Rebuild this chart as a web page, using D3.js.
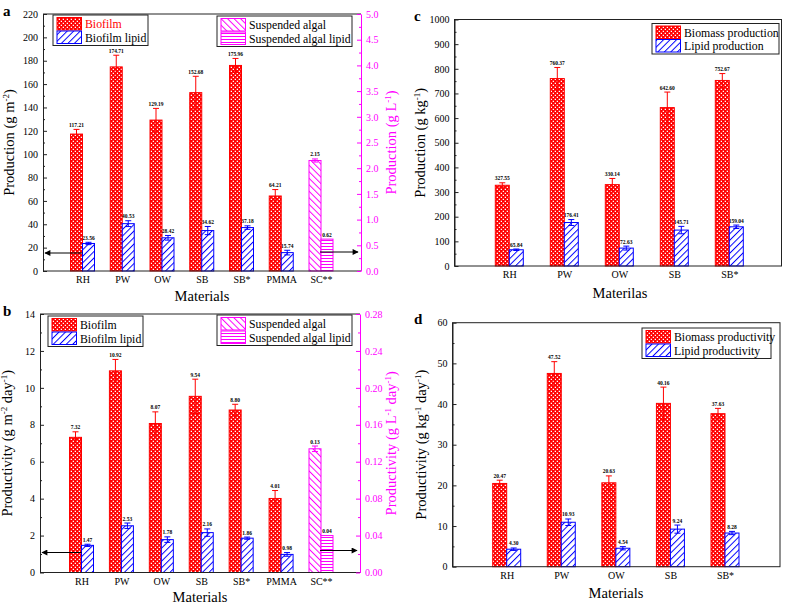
<!DOCTYPE html>
<html><head><meta charset="utf-8">
<script src="https://cdn.jsdelivr.net/npm/d3@7"></script>
<style>body{margin:0;background:#fff;} svg{display:block;font-family:"Liberation Serif","Times New Roman",serif;}</style>
</head><body><svg id="chart" width="785" height="605"></svg>
<script>
// ---------- DATA ----------
const materialsAB = ["RH","PW","OW","SB","SB*","PMMA","SC**"];
const materialsCD = ["RH","PW","OW","SB","SB*"];

// Panel a (production)
const aBiofilm      = [117.21,174.71,129.19,152.68,175.96,64.21];
const aBiofilmErr   = [4,10,10,14,6,5.5];
const aLipid        = [23.56,40.53,28.42,34.62,37.18,15.74];
const aLipidErr     = [1,2.5,2,3.5,1.5,2];
const aSusp         = [2.15];
const aSuspErr      = [0.03];
const aSuspLipid    = [0.62];
const aSuspLipidErr = [0];
const aLeftTicks    = [0,20,40,60,80,100,120,140,160,180,200,220];
const aRightTicks   = [0.0,0.5,1.0,1.5,2.0,2.5,3.0,3.5,4.0,4.5,5.0];

// Panel b (productivity)
const bBiofilm      = [7.32,10.92,8.07,9.54,8.80,4.01];
const bBiofilmErr   = [0.3,0.62,0.63,0.93,0.31,0.43];
const bLipid        = [1.47,2.53,1.78,2.16,1.86,0.98];
const bLipidErr     = [0.06,0.15,0.15,0.2,0.06,0.1];
const bSusp         = [0.134];
const bSuspErr      = [0.003];
const bSuspLipid    = [0.04];
const bSuspLipidErr = [0];
const bLeftTicks    = [0,2,4,6,8,10,12,14];
const bRightTicks   = [0.00,0.04,0.08,0.12,0.16,0.20,0.24,0.28];

// Panel c (production per kg)
const cBiomass      = [327.55,760.37,330.14,642.60,752.67];
const cBiomassErr   = [10,45,25,63,28];
const cLipid        = [65.84,176.41,72.63,145.71,159.04];
const cLipidErr     = [3,12,8,15,7];
const cTicks        = [0,100,200,300,400,500,600,700,800,900,1000];

// Panel d (productivity per kg)
const dBiomass      = [20.47,47.52,20.63,40.16,37.63];
const dBiomassErr   = [0.8,2.9,1.7,4,1.3];
const dLipid        = [4.30,10.93,4.54,9.24,8.28];
const dLipidErr     = [0.3,0.8,0.4,1.0,0.4];
const dTicks        = [0,10,20,30,40,50,60];

// ---------- DRAW ----------
const RED="#ff0000", BLUE="#0000ff", MAG="#ff00ff", AX="#222";
const svg = d3.select("#chart");
const defs = svg.append("defs");

const pr = defs.append("pattern").attr("id","pRed").attr("patternUnits","userSpaceOnUse").attr("width",4).attr("height",4);
pr.append("rect").attr("width",4).attr("height",4).attr("fill",RED);
pr.append("rect").attr("x",0.7).attr("y",0.7).attr("width",1.3).attr("height",1.3).attr("fill","#fff");
pr.append("rect").attr("x",2.7).attr("y",2.7).attr("width",1.3).attr("height",1.3).attr("fill","#fff");

function linePattern(id,color,rot,size){
  const p = defs.append("pattern").attr("id",id).attr("patternUnits","userSpaceOnUse")
    .attr("width",size).attr("height",size).attr("patternTransform",`rotate(${rot})`);
  p.append("rect").attr("width",size).attr("height",size).attr("fill","#fff");
  p.append("line").attr("x1",0.5).attr("y1",0).attr("x2",0.5).attr("y2",size).attr("stroke",color).attr("stroke-width",1);
}
linePattern("pBlue",BLUE,45,4.6);
linePattern("pMag",MAG,-45,4.6);
const ph = defs.append("pattern").attr("id","pHor").attr("patternUnits","userSpaceOnUse").attr("width",4).attr("height",3);
ph.append("rect").attr("width",4).attr("height",3).attr("fill","#fff");
ph.append("line").attr("x1",0).attr("x2",4).attr("y1",0.5).attr("y2",0.5).attr("stroke",MAG).attr("stroke-width",1);

const mk = defs.append("marker").attr("id","arr").attr("viewBox","0 0 10 10").attr("refX",9).attr("refY",5)
  .attr("markerWidth",8).attr("markerHeight",6).attr("markerUnits","userSpaceOnUse").attr("orient","auto");
mk.append("path").attr("d","M0,0 L10,5 L0,10 Z").attr("fill","#000");

function addTitle(g, x, y, parts, color, rotate, size){
  const t = g.append("text").attr("transform",`translate(${x},${y})${rotate?" rotate(-90)":""}`)
    .attr("text-anchor","middle").attr("font-size",size).attr("fill",color);
  parts.forEach(p=>{
    if(typeof p==="string") t.append("tspan").text(p);
    else t.append("tspan").attr("baseline-shift","super").attr("font-size",size*0.62).text(p.sup);
  });
}

function drawBars(g, x, y, cats, vals, errs, side, bw, fill, stroke, bottom){
  const data = vals.map((v,i)=>({c:cats[i], v, e:errs[i]}));
  g.selectAll(null).data(data).join("rect")
    .attr("x",d=>side<0 ? x(d.c)-bw : x(d.c)).attr("width",bw)
    .attr("y",d=>y(d.v)).attr("height",d=>bottom-y(d.v))
    .attr("fill",fill).attr("stroke",stroke).attr("stroke-width",1);
  const eg = g.selectAll(null).data(data.filter(d=>d.e>0)).join("g");
  const cx = d=> side<0 ? x(d.c)-bw/2 : x(d.c)+bw/2;
  eg.append("line").attr("x1",cx).attr("x2",cx).attr("y1",d=>y(d.v-d.e)).attr("y2",d=>y(d.v+d.e)).attr("stroke",stroke);
  eg.append("line").attr("x1",d=>cx(d)-3).attr("x2",d=>cx(d)+3).attr("y1",d=>y(d.v+d.e)).attr("y2",d=>y(d.v+d.e)).attr("stroke",stroke);
  eg.append("line").attr("x1",d=>cx(d)-3).attr("x2",d=>cx(d)+3).attr("y1",d=>y(d.v-d.e)).attr("y2",d=>y(d.v-d.e)).attr("stroke",stroke);
  g.selectAll(null).data(data).join("text")
    .attr("x",cx).attr("y",d=>y(d.v+d.e)-2.5).attr("text-anchor","middle")
    .attr("font-size",5.5).attr("font-weight","bold").attr("fill","#000")
    .text(d=>d.v.toFixed(2));
}

function legend(g, x0, y0, w, items){
  g.append("rect").attr("x",x0).attr("y",y0).attr("width",w).attr("height",30.5)
    .attr("fill","#fff").attr("stroke",AX).attr("stroke-width",1);
  items.forEach((it,i)=>{
    const yy = y0+2.5+i*13.5;
    g.append("rect").attr("x",x0+4).attr("y",yy).attr("width",24.5).attr("height",12.5)
      .attr("fill",it.fill).attr("stroke",it.stroke).attr("stroke-width",1);
    g.append("text").attr("x",x0+32).attr("y",yy+10.5).attr("font-size",11.8).attr("fill",it.tcolor||"#000").text(it.label);
  });
}

function leftAxis(g, y, left, ticks, minor, fmt){
  g.append("g").attr("transform",`translate(${left},0)`)
    .call(d3.axisLeft(y).tickValues(ticks).tickSizeInner(-4).tickSizeOuter(0).tickPadding(5).tickFormat(fmt))
    .call(s=>{s.selectAll("text").attr("font-size",10).attr("font-family","Liberation Serif").attr("fill","#000");
              s.selectAll("line,path").attr("stroke",AX);});
  g.append("g").attr("transform",`translate(${left},0)`)
    .call(d3.axisLeft(y).tickValues(minor).tickSize(-2).tickFormat(""))
    .call(s=>{s.select(".domain").remove(); s.selectAll("line").attr("stroke",AX);});
}

function catAxis(g, x, bottom){
  g.append("g").attr("transform",`translate(0,${bottom})`)
    .call(d3.axisBottom(x).tickSize(0).tickPadding(5))
    .call(s=>{s.select(".domain").remove(); s.selectAll("text").attr("font-size",10).attr("font-family","Liberation Serif").attr("fill","#000");});
}

function panelAB(o){
  const g = svg.append("g");
  const x = d3.scalePoint().domain(materialsAB).range([o.cx0,o.cx1]);
  const y = d3.scaleLinear().domain([o.leftTicks[0], o.leftTicks[o.leftTicks.length-1]]).range([o.bottom,o.top]);
  const y2 = d3.scaleLinear().domain([o.rightTicks[0], o.rightTicks[o.rightTicks.length-1]]).range([o.bottom,o.top]);
  const cats6 = materialsAB.slice(0,6), catSC = materialsAB.slice(6);
  drawBars(g,x,y,cats6,o.bio,o.bioErr,-1,o.bw,"url(#pRed)",RED,o.bottom);
  drawBars(g,x,y,cats6,o.lip,o.lipErr,1,o.bw,"url(#pBlue)",BLUE,o.bottom);
  drawBars(g,x,y2,catSC,o.susp,o.suspErr,-1,o.bw,"url(#pMag)",MAG,o.bottom);
  drawBars(g,x,y2,catSC,o.suspLip,o.suspLipErr,1,o.bw,"url(#pHor)",MAG,o.bottom);
  g.append("line").attr("x1",o.left).attr("x2",o.right).attr("y1",o.top).attr("y2",o.top).attr("stroke",AX);
  g.append("line").attr("x1",o.left).attr("x2",o.right).attr("y1",o.bottom).attr("y2",o.bottom).attr("stroke",AX);
  leftAxis(g,y,o.left,o.leftTicks,o.leftMinor,o.leftFmt);
  g.append("g").attr("transform",`translate(${o.right},0)`)
    .call(d3.axisRight(y2).tickValues(o.rightTicks).tickSizeInner(-4).tickSizeOuter(0).tickPadding(5).tickFormat(o.rightFmt))
    .call(s=>{s.selectAll("text").attr("font-size",10).attr("font-family","Liberation Serif").attr("fill",MAG);
              s.selectAll("line,path").attr("stroke",MAG);});
  g.append("g").attr("transform",`translate(${o.right},0)`)
    .call(d3.axisRight(y2).tickValues(o.rightMinor).tickSize(-2).tickFormat(""))
    .call(s=>{s.select(".domain").remove(); s.selectAll("line").attr("stroke",MAG);});
  catAxis(g,x,o.bottom);
  g.append("line").attr("x1",x("RH")).attr("x2",o.left+2).attr("y1",o.bottom-o.arrowDy).attr("y2",o.bottom-o.arrowDy)
    .attr("stroke","#000").attr("stroke-width",1).attr("marker-end","url(#arr)");
  g.append("line").attr("x1",x("SC**")-1).attr("x2",o.right-3).attr("y1",o.bottom-o.arrowDy2).attr("y2",o.bottom-o.arrowDy2)
    .attr("stroke","#000").attr("stroke-width",1).attr("marker-end","url(#arr)");
  legend(g,o.lg1[0],o.lg1[1],95,[{fill:"url(#pRed)",stroke:RED,label:"Biofilm",tcolor:o.bioTextColor},{fill:"url(#pBlue)",stroke:BLUE,label:"Biofilm lipid"}]);
  legend(g,o.lg2[0],o.lg2[1],135,[{fill:"url(#pMag)",stroke:MAG,label:"Suspended algal"},{fill:"url(#pHor)",stroke:MAG,label:"Suspended algal lipid"}]);
  g.append("text").attr("x",(o.left+o.right)/2).attr("y",o.bottom+29.5).attr("text-anchor","middle").attr("font-size",14.5).text("Materials");
  addTitle(g,o.ltx,(o.top+o.bottom)/2,o.leftTitle,"#000",true,14.5);
  addTitle(g,o.rtx,(o.top+o.bottom)/2,o.rightTitle,MAG,true,14.5);
  g.append("text").attr("x",3).attr("y",o.top+2).attr("font-size",15).attr("font-weight","bold").text(o.tag);
}

function panelCD(o){
  const g = svg.append("g");
  const x = d3.scalePoint().domain(materialsCD).range([o.cx0,o.cx1]);
  const y = d3.scaleLinear().domain([o.ticks[0],o.ticks[o.ticks.length-1]]).range([o.bottom,o.top]);
  drawBars(g,x,y,materialsCD,o.bio,o.bioErr,-1,o.bw,"url(#pRed)",RED,o.bottom);
  drawBars(g,x,y,materialsCD,o.lip,o.lipErr,1,o.bw,"url(#pBlue)",BLUE,o.bottom);
  g.append("rect").attr("x",o.left).attr("y",o.top).attr("width",o.right-o.left).attr("height",o.bottom-o.top)
    .attr("fill","none").attr("stroke",AX);
  leftAxis(g,y,o.left,o.ticks,o.minor,d3.format("d"));
  catAxis(g,x,o.bottom);
  legend(g,o.lg[0],o.lg[1],o.lgw,[{fill:"url(#pRed)",stroke:RED,label:o.l1},{fill:"url(#pBlue)",stroke:BLUE,label:o.l2}]);
  g.append("text").attr("x",o.xtx).attr("y",o.bottom+31.5).attr("text-anchor","middle").attr("font-size",14.5).text(o.xTitle);
  addTitle(g,o.ltx,(o.top+o.bottom)/2,o.leftTitle,"#000",true,14.5);
  g.append("text").attr("x",o.tagx).attr("y",o.top+1).attr("font-size",15).attr("font-weight","bold").text(o.tag);
}

const minorOf = (ticks)=>{ const s=(ticks[1]-ticks[0])/2; return ticks.slice(0,-1).map(t=>t+s); };

panelAB({tag:"a", left:43, right:361, top:14, bottom:271, cx0:82.5, cx1:321, bw:12,
  bio:aBiofilm,bioErr:aBiofilmErr,lip:aLipid,lipErr:aLipidErr,susp:aSusp,suspErr:aSuspErr,suspLip:aSuspLipid,suspLipErr:aSuspLipidErr,
  leftTicks:aLeftTicks,leftMinor:minorOf(aLeftTicks),rightTicks:aRightTicks,rightMinor:minorOf(aRightTicks),
  leftFmt:d3.format("d"),rightFmt:d3.format(".1f"),arrowDy:18,arrowDy2:19,
  lg1:[53,15],lg2:[217,16],bioTextColor:RED,ltx:14,rtx:396,
  leftTitle:["Production (g m",{sup:"-2"},")"],rightTitle:["Production (g L",{sup:"-1"},")"]});

panelAB({tag:"b", left:40, right:360, top:314, bottom:572.5, cx0:81.5, cx1:321, bw:12,
  bio:bBiofilm,bioErr:bBiofilmErr,lip:bLipid,lipErr:bLipidErr,susp:bSusp,suspErr:bSuspErr,suspLip:bSuspLipid,suspLipErr:bSuspLipidErr,
  leftTicks:bLeftTicks,leftMinor:minorOf(bLeftTicks),rightTicks:bRightTicks,rightMinor:minorOf(bRightTicks),
  leftFmt:d3.format("d"),rightFmt:d3.format(".2f"),arrowDy:20,arrowDy2:22,
  lg1:[48,316],lg2:[217,315],bioTextColor:"#000",ltx:12,rtx:396,
  leftTitle:["Productivity (g m",{sup:"-2"}," day",{sup:"-1"},")"],rightTitle:["Productivity (g L",{sup:"-1"}," day",{sup:"-1"},")"]});

panelCD({tag:"c", tagx:414, left:454.5, right:781.5, top:19.5, bottom:266, cx0:509.3, cx1:729.3, bw:14,
  bio:cBiomass,bioErr:cBiomassErr,lip:cLipid,lipErr:cLipidErr,ticks:cTicks,minor:minorOf(cTicks),
  lg:[652,23.5],lgw:127,l1:"Biomass production",l2:"Lipid production",xTitle:"Materilas",xtx:620,ltx:425,
  leftTitle:["Production (g kg",{sup:"-1"},")"]});

panelCD({tag:"d", tagx:414, left:452.5, right:780, top:322.7, bottom:566.7, cx0:506.7, cx1:725, bw:14,
  bio:dBiomass,bioErr:dBiomassErr,lip:dLipid,lipErr:dLipidErr,ticks:dTicks,minor:minorOf(dTicks),
  lg:[642,328],lgw:129,l1:"Biomass productivity",l2:"Lipid productivity",xTitle:"Materials",xtx:616,ltx:426,
  leftTitle:["Productivity (g kg",{sup:"-1"}," day",{sup:"-1"},")"]});
</script></body></html>
